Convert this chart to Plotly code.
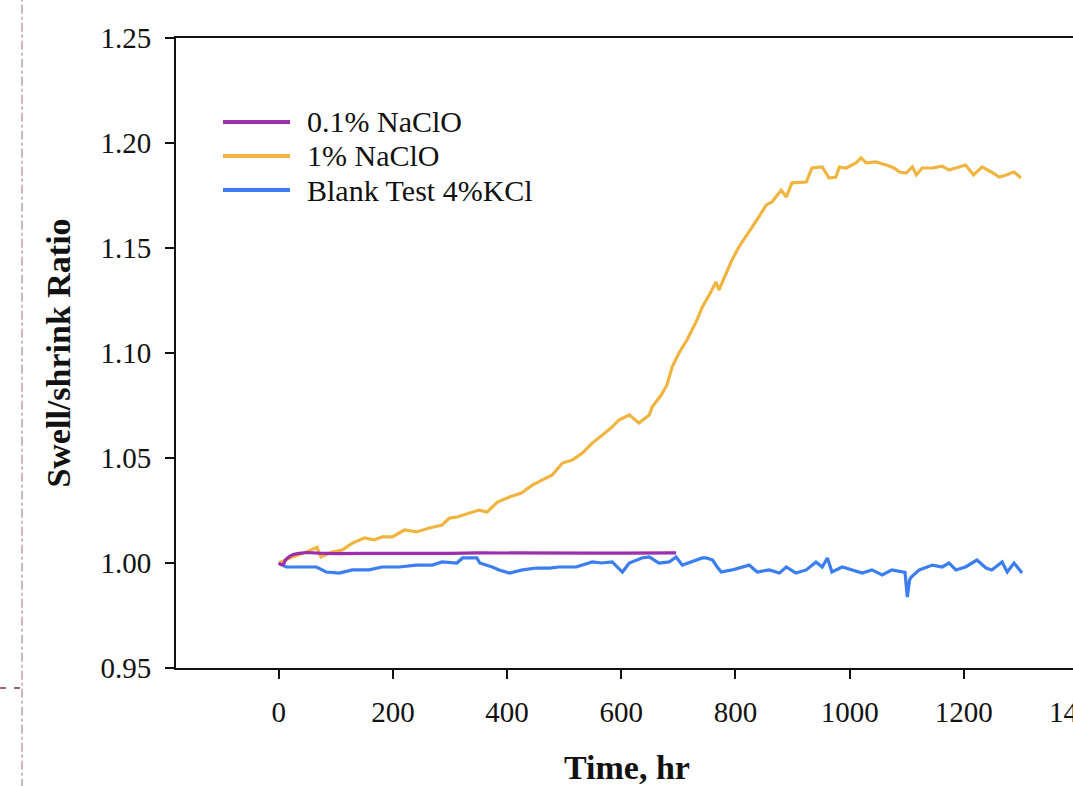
import plotly.graph_objects as go

# ---- data ----
series_names = ["0.1% NaClO", "1% NaClO", "Blank Test 4%KCl"]

naclo_01_hr = [0, 4, 8, 12, 18, 25, 35, 50, 70, 100, 150, 200, 250, 300, 350,
               400, 450, 500, 550, 600, 650, 696]
naclo_01_val = [1.0000, 0.9992, 0.9993, 1.0015, 1.0030, 1.0040, 1.0046, 1.0050,
                1.0047, 1.0045, 1.0046, 1.0045, 1.0047, 1.0046, 1.0048, 1.0047,
                1.0046, 1.0048, 1.0047, 1.0047, 1.0049, 1.0048]

naclo_1_hr = [0, 24, 48, 67, 74, 94, 111, 129, 150, 167, 181, 199, 220, 241, 264,
              286, 299, 313, 334, 351, 365, 383, 404, 425, 444, 462, 479, 497, 514,
              532, 549, 567, 584, 596, 614, 631, 649, 654, 670, 680, 689, 701, 715,
              731, 742, 754, 766, 771, 784, 794, 806, 818, 829, 841, 854, 864, 880,
              889, 899, 912, 924, 934, 952, 964, 976, 982, 994, 1011, 1020, 1029,
              1046, 1064, 1078, 1087, 1099, 1110, 1117, 1127, 1145, 1162, 1174,
              1186, 1203, 1217, 1232, 1248, 1262, 1274, 1288, 1300]
naclo_1_val = [1.0000, 1.0029, 1.0052, 1.0076, 1.0029, 1.0052, 1.0062, 1.0095,
               1.0119, 1.0110, 1.0124, 1.0124, 1.0157, 1.0148, 1.0167, 1.0181,
               1.0214, 1.0219, 1.0238, 1.0252, 1.0243, 1.0290, 1.0314, 1.0333,
               1.0371, 1.0395, 1.0419, 1.0476, 1.0490, 1.0524, 1.0571, 1.0610,
               1.0648, 1.0681, 1.0705, 1.0667, 1.0705, 1.0743, 1.0800, 1.0848,
               1.0933, 1.1000, 1.1062, 1.1148, 1.1219, 1.1276, 1.1338, 1.1300,
               1.1381, 1.1443, 1.1505, 1.1552, 1.1600, 1.1648, 1.1705, 1.1719,
               1.1776, 1.1743, 1.1810, 1.1814, 1.1814, 1.1881, 1.1886, 1.1833,
               1.1838, 1.1886, 1.1881, 1.1905, 1.1929, 1.1905, 1.1910, 1.1895,
               1.1881, 1.1862, 1.1857, 1.1886, 1.1848, 1.1881, 1.1881, 1.1890,
               1.1871, 1.1881, 1.1895, 1.1848, 1.1886, 1.1862, 1.1838, 1.1848,
               1.1862, 1.1833]

blank_hr = [0, 13, 36, 66, 76, 83, 106, 129, 158, 181, 211, 241, 269, 286, 312,
            322, 347, 352, 374, 386, 404, 427, 451, 474, 491, 521, 549, 566, 584,
            602, 614, 636, 649, 666, 684, 696, 707, 724, 742, 749, 760, 768, 775,
            794, 810, 824, 838, 859, 877, 889, 906, 924, 941, 952, 961, 969, 987,
            1004, 1022, 1039, 1057, 1074, 1092, 1097, 1101, 1105, 1108, 1122, 1145,
            1162, 1174, 1186, 1203, 1223, 1239, 1249, 1267, 1276, 1288, 1302]
blank_val = [1.0000, 0.9981, 0.9981, 0.9981, 0.9967, 0.9957, 0.9952, 0.9967,
             0.9967, 0.9981, 0.9981, 0.9990, 0.9990, 1.0005, 1.0000, 1.0024,
             1.0024, 1.0000, 0.9981, 0.9967, 0.9952, 0.9967, 0.9976, 0.9976,
             0.9981, 0.9981, 1.0005, 1.0000, 1.0005, 0.9957, 1.0000, 1.0024,
             1.0029, 1.0000, 1.0005, 1.0029, 0.9990, 1.0005, 1.0024, 1.0024,
             1.0014, 0.9981, 0.9957, 0.9967, 0.9981, 0.9990, 0.9957, 0.9967,
             0.9952, 0.9981, 0.9952, 0.9967, 1.0005, 0.9981, 1.0024, 0.9957,
             0.9981, 0.9967, 0.9952, 0.9967, 0.9943, 0.9967, 0.9957, 0.9955,
             0.9838, 0.9920, 0.9933, 0.9967, 0.9990, 0.9981, 1.0000, 0.9967,
             0.9981, 1.0014, 0.9976, 0.9967, 1.0005, 0.9957, 1.0000, 0.9952]

x_ticks = [0, 200, 400, 600, 800, 1000, 1200, 1400]
y_ticks = [0.95, 1.00, 1.05, 1.10, 1.15, 1.20, 1.25]

colors = ["#9B2FAE", "#F0B540", "#3A7EF2"]

FONT = "Liberation Serif, Times New Roman, serif"

fig = go.Figure()
# draw order: blank, 1%, 0.1%
fig.add_trace(go.Scatter(x=blank_hr, y=blank_val, mode="lines", name=series_names[2],
                         line=dict(color=colors[2], width=3.2), showlegend=False))
fig.add_trace(go.Scatter(x=naclo_1_hr, y=naclo_1_val, mode="lines", name=series_names[1],
                         line=dict(color=colors[1], width=3.2), showlegend=False))
fig.add_trace(go.Scatter(x=naclo_01_hr, y=naclo_01_val, mode="lines", name=series_names[0],
                         line=dict(color=colors[0], width=3.2), showlegend=False))

# custom legend (long line samples as in the reference)
shapes = []
annotations = []
leg_y = [0.8667, 0.8127, 0.7587]
for i, name in enumerate(series_names):
    shapes.append(dict(type="line", xref="paper", yref="paper",
                       x0=0.0521, x1=0.1264, y0=leg_y[i], y1=leg_y[i],
                       line=dict(color=colors[i], width=4)))
    annotations.append(dict(xref="paper", yref="paper", x=0.1430, y=leg_y[i],
                            xanchor="left", yanchor="middle", showarrow=False,
                            text=name, font=dict(family=FONT, size=30, color="#111")))

# page artefacts at left edge
shapes.append(dict(type="line", xref="paper", yref="paper",
                   x0=-0.1707, x1=-0.1707, y0=-0.19, y1=1.07,
                   line=dict(color="#A8687F", width=1, dash="dashdot")))
shapes.append(dict(type="line", xref="paper", yref="paper",
                   x0=-0.1951, x1=-0.1707, y0=-0.0317, y1=-0.0317,
                   line=dict(color="#7A2F4F", width=1.5, dash="6px,8px")))

fig.update_layout(
    width=1080, height=786,
    margin=dict(l=176, r=2, t=38, b=118, autoexpand=False),
    paper_bgcolor="white", plot_bgcolor="white",
    font=dict(family=FONT, color="#111"),
    shapes=shapes, annotations=annotations,
    showlegend=False,
)
fig.update_xaxes(
    range=[-180, 1400], tickvals=x_ticks, ticktext=[str(v) for v in x_ticks],
    showgrid=False, zeroline=False, showline=True, linecolor="#111", linewidth=2,
    mirror=True, ticks="outside", ticklen=9, tickwidth=2, tickcolor="#111",
    tickfont=dict(family=FONT, size=29, color="#111"), ticklabelstandoff=8,
    ticklabeloverflow="allow", automargin=False,
    title=dict(text="<b>Time, hr</b>", font=dict(family=FONT, size=34, color="#111"),
               standoff=30),
)
fig.update_yaxes(
    range=[0.95, 1.25], tickvals=y_ticks, ticktext=["%.2f" % v for v in y_ticks],
    showgrid=False, zeroline=False, showline=True, linecolor="#111", linewidth=2,
    mirror=True, ticks="outside", ticklen=9, tickwidth=2, tickcolor="#111",
    tickfont=dict(family=FONT, size=29, color="#111"), ticklabelstandoff=8,
    automargin=False,
    title=dict(text="<b>Swell/shrink Ratio</b>", font=dict(family=FONT, size=34, color="#111"),
               standoff=20),
)

fig.write_html("out.html",
               config={"displayModeBar": False},
               post_script="document.documentElement.style.overflow='hidden';"
                           "document.body.style.overflow='hidden';"
                           "document.body.style.margin='0';")
